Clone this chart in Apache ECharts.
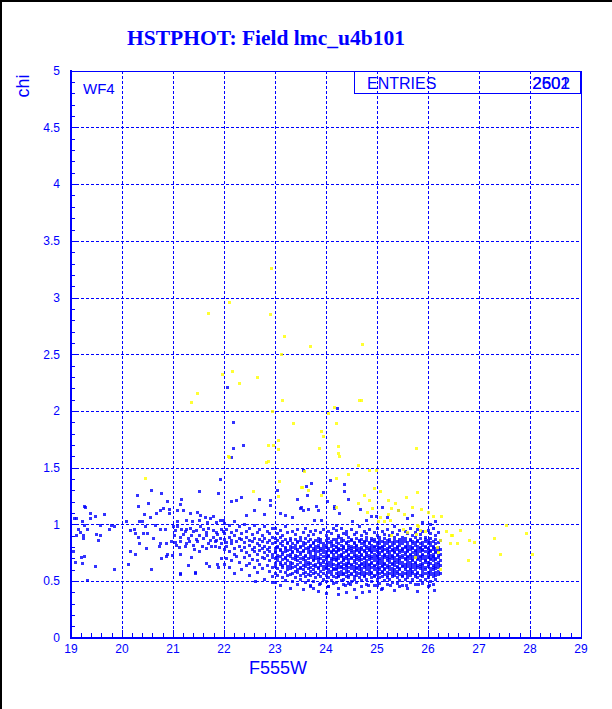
<!DOCTYPE html>
<html><head><meta charset="utf-8">
<script src="https://cdn.jsdelivr.net/npm/echarts@6/dist/echarts.min.js"></script>
<style>html,body{margin:0;padding:0;background:#fff;}#c{width:612px;height:709px;}#c path,#c rect,#c line{shape-rendering:crispEdges;}</style>
</head><body><div id="c"></div>
<script>
// ---- data ----
const xTickValues = [19,20,21,22,23,24,25,26,27,28,29];
const yTickValues = [0,0.5,1,1.5,2,2.5,3,3.5,4,4.5,5];
const statsLabel = "ENTRIES";
const statsValues = ["2502","2601"];

// sparse blue points x 19-21
const blueLeft = [[19.06,1.05],[19.11,1.05],[19.23,1.03],[19.26,1.16],[19.29,1.15],[19.39,1.10],[19.48,1.07],[19.65,1.09],[19.39,1.05],[19.27,0.99],[19.14,0.96],[19.19,0.93],[19.32,0.96],[19.11,0.90],[19.25,0.90],[19.25,0.88],[19.50,0.91],[19.58,0.90],[19.54,0.86],[19.58,0.99],[19.80,0.99],[19.86,0.98],[19.76,0.96],[19.21,0.71],[19.27,0.72],[19.08,0.67],[19.22,0.66],[19.48,0.63],[19.86,0.60],[19.33,0.51],[19.05,0.76],
[20.31,1.26],[20.33,1.16],[20.52,1.19],[20.58,1.30],[20.78,1.27],[20.90,1.20],[20.45,1.09],[20.55,1.06],[20.68,1.10],[20.75,1.12],[20.81,1.14],[20.93,1.13],[20.93,1.10],[20.09,1.03],[20.35,1.03],[20.41,1.03],[20.16,0.95],[20.24,0.96],[20.47,0.98],[20.65,0.99],[20.75,0.96],[20.86,0.96],[20.50,0.92],[20.42,0.92],[20.33,0.89],[20.27,0.92],[20.75,0.83],[20.73,0.81],[20.88,0.83],[20.34,0.83],[20.17,0.76],[20.27,0.74],[20.48,0.79],[20.78,0.70],[20.88,0.72],[20.90,0.74],[20.97,0.85],[21.04,0.84],[21.01,0.98],[20.99,0.73],[20.62,0.88],[20.12,0.65],[20.58,0.60]];

// blue points x 21-22
const blueMid = [[21.08,1.12],[21.21,1.12],[21.35,1.10],[21.48,1.11],[21.53,1.08],[21.63,1.06],[21.74,1.05],[21.80,1.07],[21.86,1.02],[21.94,1.04],[21.99,1.04],[21.09,1.03],[21.27,1.04],[21.39,1.03],[21.52,1.04],[21.68,1.02],
[21.04,0.95],[21.08,0.98],[21.17,0.96],[21.24,0.94],[21.27,0.96],[21.35,0.97],[21.41,0.94],[21.46,0.95],[21.53,0.98],[21.59,0.96],[21.65,0.93],[21.69,0.97],[21.79,0.95],[21.86,0.93],[21.95,0.96],[21.99,0.94],
[21.02,0.90],[21.14,0.89],[21.20,0.91],[21.31,0.88],[21.37,0.90],[21.46,0.87],[21.52,0.90],[21.59,0.88],[21.65,0.90],[21.74,0.86],[21.79,0.89],[21.87,0.91],[21.93,0.88],
[21.06,0.82],[21.15,0.85],[21.27,0.83],[21.33,0.85],[21.41,0.82],[21.49,0.85],[21.58,0.81],[21.70,0.83],[21.76,0.81],[21.83,0.85],[21.95,0.83],[21.86,0.86],
[21.13,0.80],[21.25,0.81],[21.43,0.78],[21.66,0.79],[21.84,0.81],[21.92,0.80],
[21.14,0.74],[21.36,0.71],[21.52,0.76],[21.65,0.66],[21.72,0.63],[21.88,0.65],[21.96,0.70],[21.89,0.62],[21.15,0.57],[21.45,0.57],[21.31,0.64],
[21.14,1.18],[21.17,1.22],[21.52,1.29],[21.90,1.27],[21.93,1.40]];

// sparse blue points above and below the main band
const blueOutliers = [[22.38,1.70],[22.19,1.67],[23.55,1.48],[23.62,1.34],[23.64,1.26],[22.14,1.20],[22.25,1.21],[22.35,1.24],[22.69,1.22],[22.92,1.21],[22.92,1.17],[23.11,1.10],[23.50,1.14],[23.55,1.12],[23.82,1.16],[23.86,1.12],[24.22,2.02],[22.07,2.21],[22.19,1.90],[22.14,1.59],[24.08,1.39],[23.95,1.28],[24.37,1.35],[24.37,1.29],[23.52,1.15],[24.16,1.16],[24.16,1.14],[23.66,1.13],[24.27,1.10],[24.67,1.13],[25.43,1.12],[24.89,1.07],[24.99,1.07],[23.92,1.04],[23.78,1.04],[24.52,1.03],[24.20,0.99],[25.60,1.05],[25.90,1.02],[25.20,1.06],[24.80,1.04],[26.05,1.00],[23.35,1.06],[23.20,1.08],[22.80,1.09],[22.60,1.12],[22.45,1.08],[23.05,1.30],[23.72,1.36],[24.45,1.22],[24.02,1.20],[25.10,1.15],[25.70,1.08],[26.15,1.03],[23.45,1.22],
[23.70,0.46],[23.88,0.47],[24.05,0.45],[24.24,0.38],[24.38,0.46],[24.48,0.47],[24.71,0.40],[24.83,0.46],[25.00,0.46],[25.08,0.43],[25.27,0.46],[25.45,0.45],[25.58,0.46],[25.82,0.47],[26.02,0.46],[26.12,0.42],[22.61,0.50],[23.76,0.44],[21.14,0.56],[21.45,0.58],[22.95,0.49],[24.60,0.36]];

// dense band: columns of x with the y values of the points in each column
const blobCols = [
[22.00,[1.01,0.92,0.87,0.78,0.65]],
[22.05,[0.96,0.84,0.81,0.70]],
[22.10,[0.99,0.89,0.76,0.62]],
[22.15,[0.93,0.86,0.83,0.68]],
[22.20,[1.03,0.90,0.79,0.74,0.57]],
[22.25,[0.95,0.85,0.72]],
[22.30,[0.98,0.88,0.81,0.67]],
[22.35,[0.92,0.87,0.77,0.60]],
[22.40,[1.00,0.84,0.80,0.71]],
[22.45,[0.94,0.89,0.75,0.64]],
[22.50,[0.97,0.86,0.82,0.73,0.66,0.55]],
[22.55,[0.91,0.85,0.78,0.69]],
[22.60,[0.99,0.88,0.80,0.76,0.62]],
[22.65,[0.93,0.83,0.74,0.68,0.58]],
[22.70,[0.96,0.87,0.82,0.77,0.65]],
[22.75,[0.90,0.85,0.79,0.71,0.61]],
[22.80,[0.98,0.88,0.81,0.75,0.70,0.52]],
[22.85,[0.94,0.84,0.78,0.73,0.64]],
[22.90,[0.92,0.86,0.80,0.76,0.68,0.59]],
[22.95,[0.97,0.89,0.83,0.74,0.71,0.62,0.54]],
[23.00,[0.97,0.88,0.84,0.79,0.76,0.75,0.70,0.66,0.63,0.57,0.49]],
[23.05,[0.92,0.86,0.81,0.80,0.73,0.71,0.68,0.61,0.55]],
[23.10,[0.95,0.89,0.83,0.78,0.77,0.72,0.67,0.65,0.59,0.46]],
[23.15,[0.90,0.85,0.82,0.75,0.74,0.69,0.64,0.62,0.53]],
[23.20,[0.98,0.87,0.80,0.79,0.76,0.71,0.70,0.66,0.58,0.51]],
[23.25,[0.93,0.84,0.83,0.77,0.73,0.68,0.63,0.60,0.55]],
[23.30,[0.88,0.86,0.81,0.78,0.74,0.72,0.67,0.64,0.61,0.56,0.44]],
[23.35,[0.94,0.83,0.80,0.76,0.75,0.70,0.66,0.62,0.57,0.50]],
[23.40,[0.91,0.87,0.82,0.79,0.73,0.71,0.69,0.63,0.59,0.53]],
[23.45,[0.96,0.85,0.84,0.78,0.76,0.72,0.68,0.65,0.60,0.58,0.47]],
[23.50,[0.89,0.86,0.81,0.80,0.75,0.74,0.70,0.67,0.62,0.61,0.55,0.52]],
[23.55,[0.93,0.84,0.82,0.77,0.76,0.71,0.69,0.64,0.60,0.57,0.43]],
[23.60,[0.97,0.88,0.83,0.79,0.73,0.72,0.68,0.66,0.63,0.58,0.54,0.49]],
[23.65,[0.90,0.85,0.80,0.78,0.75,0.70,0.67,0.65,0.61,0.56,0.51]],
[23.70,[0.94,0.87,0.82,0.81,0.76,0.74,0.71,0.66,0.62,0.59,0.55,0.45]],
[23.75,[0.91,0.84,0.83,0.79,0.77,0.72,0.69,0.68,0.64,0.60,0.57,0.50]],
[23.80,[0.95,0.86,0.81,0.78,0.75,0.73,0.70,0.65,0.63,0.58,0.53]],
[23.85,[0.88,0.85,0.82,0.80,0.76,0.71,0.69,0.67,0.62,0.61,0.56,0.41]],
[23.90,[0.93,0.87,0.84,0.79,0.77,0.74,0.70,0.66,0.64,0.59,0.54,0.48]],
[23.95,[0.96,0.83,0.81,0.78,0.75,0.72,0.68,0.67,0.63,0.60,0.57,0.52]],
[24.00,[0.90,0.86,0.82,0.80,0.76,0.74,0.71,0.69,0.65,0.62,0.61,0.55,0.50,0.39]],
[24.05,[0.94,0.88,0.84,0.79,0.77,0.73,0.72,0.67,0.64,0.60,0.58,0.53,0.45]],
[24.10,[0.92,0.85,0.83,0.81,0.76,0.75,0.70,0.68,0.66,0.63,0.59,0.56,0.51]],
[24.15,[0.97,0.87,0.82,0.78,0.77,0.74,0.71,0.69,0.65,0.61,0.60,0.54,0.48]],
[24.20,[0.95,0.87,0.84,0.81,0.80,0.76,0.75,0.71,0.69,0.68,0.64,0.61,0.60,0.57,0.53,0.49]],
[24.25,[0.90,0.89,0.83,0.79,0.78,0.77,0.73,0.70,0.66,0.65,0.62,0.58,0.55,0.54,0.44]],
[24.30,[0.97,0.88,0.85,0.82,0.78,0.74,0.73,0.72,0.67,0.63,0.62,0.59,0.56,0.51]],
[24.35,[0.92,0.86,0.81,0.80,0.79,0.75,0.71,0.69,0.68,0.65,0.61,0.57,0.56,0.52,0.47]],
[24.40,[0.94,0.91,0.84,0.83,0.77,0.76,0.72,0.70,0.66,0.64,0.63,0.60,0.58,0.54,0.40]],
[24.45,[0.89,0.85,0.82,0.80,0.78,0.74,0.73,0.69,0.67,0.66,0.62,0.59,0.55,0.53,0.48]],
[24.50,[0.96,0.87,0.86,0.81,0.79,0.77,0.75,0.71,0.70,0.65,0.64,0.61,0.57,0.56,0.50]],
[24.55,[0.91,0.84,0.83,0.80,0.76,0.74,0.72,0.68,0.67,0.63,0.60,0.59,0.54,0.52,0.43]],
[24.60,[0.93,0.88,0.82,0.81,0.78,0.77,0.73,0.71,0.69,0.66,0.62,0.61,0.58,0.55,0.49]],
[24.65,[0.98,0.86,0.85,0.79,0.76,0.75,0.72,0.70,0.68,0.64,0.63,0.60,0.57,0.53]],
[24.70,[0.90,0.87,0.83,0.80,0.78,0.74,0.73,0.69,0.66,0.65,0.61,0.59,0.56,0.51,0.45]],
[24.75,[0.94,0.85,0.84,0.82,0.77,0.76,0.71,0.70,0.67,0.64,0.62,0.58,0.55,0.54]],
[24.80,[0.92,0.89,0.86,0.81,0.79,0.75,0.74,0.72,0.68,0.66,0.63,0.60,0.57,0.52,0.47]],
[24.85,[0.96,0.84,0.83,0.80,0.78,0.77,0.73,0.71,0.69,0.65,0.64,0.61,0.59,0.56,0.41]],
[24.90,[0.88,0.86,0.82,0.79,0.76,0.75,0.72,0.70,0.67,0.66,0.62,0.58,0.57,0.53,0.50]],
[24.95,[0.93,0.87,0.85,0.81,0.80,0.77,0.74,0.71,0.68,0.64,0.63,0.60,0.55,0.54,0.46]],
[25.00,[0.97,0.90,0.84,0.82,0.78,0.76,0.73,0.72,0.69,0.67,0.65,0.61,0.59,0.56,0.52]],
[25.05,[0.89,0.86,0.83,0.80,0.79,0.75,0.74,0.70,0.68,0.66,0.62,0.60,0.57,0.53,0.48]],
[25.10,[0.94,0.85,0.81,0.80,0.77,0.76,0.72,0.69,0.67,0.64,0.63,0.59,0.58,0.54,0.44]],
[25.15,[0.91,0.88,0.84,0.82,0.78,0.74,0.73,0.71,0.66,0.65,0.61,0.60,0.56,0.51]],
[25.20,[0.96,0.86,0.83,0.79,0.77,0.75,0.72,0.70,0.68,0.64,0.62,0.58,0.55,0.53,0.47]],
[25.25,[0.90,0.87,0.85,0.81,0.80,0.76,0.74,0.71,0.69,0.67,0.63,0.60,0.57,0.52]],
[25.30,[0.93,0.84,0.82,0.78,0.77,0.73,0.72,0.70,0.66,0.65,0.61,0.59,0.56,0.54,0.49]],
[25.35,[0.98,0.89,0.86,0.83,0.79,0.76,0.75,0.71,0.68,0.67,0.64,0.60,0.58,0.55,0.42]],
[25.40,[0.91,0.85,0.81,0.80,0.78,0.74,0.73,0.69,0.67,0.63,0.62,0.59,0.57,0.53,0.48]],
[25.45,[0.95,0.87,0.84,0.82,0.77,0.75,0.72,0.70,0.68,0.66,0.61,0.60,0.56,0.51]],
[25.50,[0.89,0.86,0.83,0.79,0.78,0.76,0.73,0.71,0.67,0.64,0.63,0.58,0.55,0.54,0.46]],
[25.55,[0.94,0.88,0.85,0.81,0.80,0.75,0.74,0.70,0.69,0.65,0.62,0.60,0.57,0.52]],
[25.60,[0.92,0.84,0.82,0.79,0.77,0.76,0.72,0.71,0.68,0.66,0.63,0.59,0.56,0.53,0.44]],
[25.65,[0.97,0.87,0.86,0.81,0.78,0.74,0.73,0.70,0.67,0.64,0.61,0.60,0.58,0.55,0.49]],
[25.70,[0.90,0.85,0.83,0.80,0.79,0.75,0.72,0.69,0.68,0.65,0.62,0.59,0.57,0.52]],
[25.75,[0.93,0.89,0.84,0.82,0.77,0.76,0.74,0.71,0.67,0.66,0.63,0.60,0.56,0.54,0.47]],
[25.80,[0.96,0.86,0.85,0.81,0.78,0.75,0.73,0.70,0.69,0.64,0.62,0.58,0.57,0.53,0.41]],
[25.85,[0.91,0.88,0.83,0.80,0.79,0.76,0.72,0.71,0.68,0.65,0.63,0.61,0.55,0.51]],
[25.90,[0.94,0.84,0.82,0.78,0.77,0.74,0.73,0.70,0.66,0.64,0.61,0.59,0.56,0.54,0.48]],
[25.95,[0.89,0.87,0.85,0.81,0.80,0.76,0.72,0.69,0.68,0.67,0.62,0.60,0.57,0.52]],
[26.00,[0.95,0.86,0.83,0.79,0.78,0.75,0.74,0.71,0.67,0.65,0.63,0.58,0.55,0.53,0.45]],
[26.05,[0.92,0.88,0.84,0.82,0.77,0.76,0.73,0.70,0.69,0.66,0.61,0.59,0.56,0.50]],
[26.10,[0.97,0.85,0.81,0.80,0.78,0.74,0.72,0.71,0.68,0.64,0.62,0.60,0.57,0.54,0.47]],
[26.15,[0.90,0.87,0.83,0.79,0.76,0.75,0.70,0.69,0.66,0.63,0.61,0.58,0.55,0.52]],
[26.20,[0.93,0.84,0.80,0.77,0.73,0.71,0.67,0.65,0.62,0.59,0.56]],
[26.24,[0.86,0.78,0.74,0.68,0.64,0.57]]
];

// yellow points
const yellowPts = [[22.94,3.26],[22.11,2.96],[21.70,2.86],[22.92,2.85],[23.19,2.66],[23.70,2.57],[24.71,2.59],[23.13,2.50],[22.16,2.35],[21.97,2.32],[22.66,2.30],[22.30,2.24],[21.49,2.16],[21.37,2.08],[23.15,2.09],[24.66,2.09],[24.69,2.09],[24.16,2.03],[22.95,2.00],[24.04,1.98],[23.37,1.89],[24.20,1.89],[23.92,1.82],[23.95,1.78],[23.07,1.74],[22.88,1.70],[22.98,1.70],[23.06,1.66],[23.88,1.67],[24.24,1.69],[24.24,1.63],[24.27,1.60],[25.78,1.67],[22.09,1.60],[22.10,1.59],
[20.46,1.41],[22.87,1.56],[22.84,1.55],[23.57,1.47],[23.08,1.38],[23.52,1.33],[23.65,1.30],[22.57,1.29],[23.06,1.25],
[24.63,1.52],[24.86,1.48],[24.99,1.48],[24.21,1.41],[24.45,1.44],[23.53,1.33],[24.96,1.32],[25.07,1.29],[25.79,1.28],[23.92,1.26],[24.75,1.26],[24.63,1.19],[24.86,1.21],[25.22,1.21],[25.37,1.19],[25.57,1.24],[24.21,1.15],[24.92,1.14],[25.29,1.14],[25.69,1.15],[25.88,1.13],[24.82,1.11],[25.23,1.09],[25.43,1.12],[25.54,1.09],[26.00,1.11],[26.10,1.07],[26.27,1.07],[25.06,1.06],[25.15,1.03],[25.27,1.04],[25.02,1.03],[25.80,0.99],[25.86,0.95],[25.60,0.93],[25.96,0.94],[26.37,0.94],[26.64,0.95],[26.46,0.90],[26.49,0.90],[26.82,0.86],[26.91,0.84],[26.45,0.83],[26.58,0.83],[27.53,0.99],[27.94,0.92],[27.31,0.88],[27.43,0.74],[28.04,0.74],[26.80,0.68],[26.21,0.75],[25.29,0.90],[25.78,0.91],[26.24,0.60],[25.75,0.71],[25.82,0.98],[25.52,0.96],[26.24,0.86],[26.18,0.80]];

// ---- build ----
const blueData = blueLeft.concat(blueMid, blueOutliers,
  blobCols.flatMap(c => c[1].map(y => [c[0], y])));

const BLUE = '#0000ff';
const chart = echarts.init(document.getElementById('c'), null, {renderer:'svg'});
const axisCommon = {
  type:'value',
  axisLine:{show:true, onZero:false, lineStyle:{color:BLUE, width:2}},
  axisTick:{show:true, inside:true, length:8, lineStyle:{color:BLUE, width:1}},
  minorTick:{show:true, splitNumber:5, length:4, lineStyle:{color:BLUE, width:1}},
  splitLine:{show:true, lineStyle:{color:BLUE, width:1, type:[3,2]}},
  minorSplitLine:{show:false}
};
chart.setOption({
  animation:false,
  backgroundColor:'#ffffff',
  grid:{left:71, right:31, top:71, bottom:71, show:true, borderColor:BLUE, borderWidth:1, backgroundColor:'transparent'},
  xAxis:Object.assign({}, axisCommon, {
    min:xTickValues[0], max:xTickValues[xTickValues.length-1], interval:1,
    minorTick:{show:true, splitNumber:5, length:5, lineStyle:{color:BLUE, width:1}},
    axisLabel:{color:BLUE, fontSize:12, fontFamily:'Liberation Sans', margin:5}
  }),
  yAxis:Object.assign({}, axisCommon, {
    min:yTickValues[0], max:yTickValues[yTickValues.length-1], interval:0.5,
    axisLabel:{color:BLUE, fontSize:12, fontFamily:'Liberation Sans', margin:11}
  }),
  series:[
    {type:'scatter', data:blueData, symbol:'rect', symbolSize:3, itemStyle:{color:BLUE}, silent:true},
    {type:'scatter', data:yellowPts, symbol:'rect', symbolSize:3, itemStyle:{color:'#ffff00'}, silent:true}
  ],
  graphic:[
    {type:'rect', shape:{x:0,y:0,width:2,height:709}, style:{fill:'#000'}, silent:true},
    {type:'rect', shape:{x:0,y:0,width:612,height:2}, style:{fill:'#000'}, silent:true},
    {type:'text', x:266, y:38, style:{text:'HSTPHOT: Field lmc_u4b101', fill:BLUE, font:'bold 21.5px "Liberation Serif", serif', align:'center', verticalAlign:'middle', textAlign:'center', textVerticalAlign:'middle'}},
    {type:'text', x:278, y:668, style:{text:'F555W', fill:BLUE, font:'18px "Liberation Sans", sans-serif', align:'center', verticalAlign:'middle', textAlign:'center', textVerticalAlign:'middle'}},
    {type:'text', x:23, y:86, rotation:Math.PI/2, style:{text:'chi', fill:BLUE, font:'18px "Liberation Sans", sans-serif', align:'center', verticalAlign:'middle', textAlign:'center', textVerticalAlign:'middle'}},
    {type:'text', x:83, y:88, style:{text:'WF4', fill:BLUE, font:'15px "Liberation Sans", sans-serif', align:'left', verticalAlign:'middle', textAlign:'left', textVerticalAlign:'middle'}},
    {type:'rect', shape:{x:354.5,y:71.5,width:226,height:22}, style:{fill:null, stroke:BLUE, lineWidth:1}},
    {type:'text', x:367, y:83, style:{text:statsLabel, fill:BLUE, font:'16px "Liberation Sans", sans-serif', align:'left', verticalAlign:'middle', textAlign:'left', textVerticalAlign:'middle'}},
    {type:'text', x:570, y:83, style:{text:statsValues[0], fill:BLUE, font:'17px "Liberation Sans", sans-serif', align:'right', verticalAlign:'middle', textAlign:'right', textVerticalAlign:'middle'}},
    {type:'text', x:570, y:83, style:{text:statsValues[1], fill:BLUE, font:'17px "Liberation Sans", sans-serif', align:'right', verticalAlign:'middle', textAlign:'right', textVerticalAlign:'middle'}}
  ]
});
</script>
</body></html>
